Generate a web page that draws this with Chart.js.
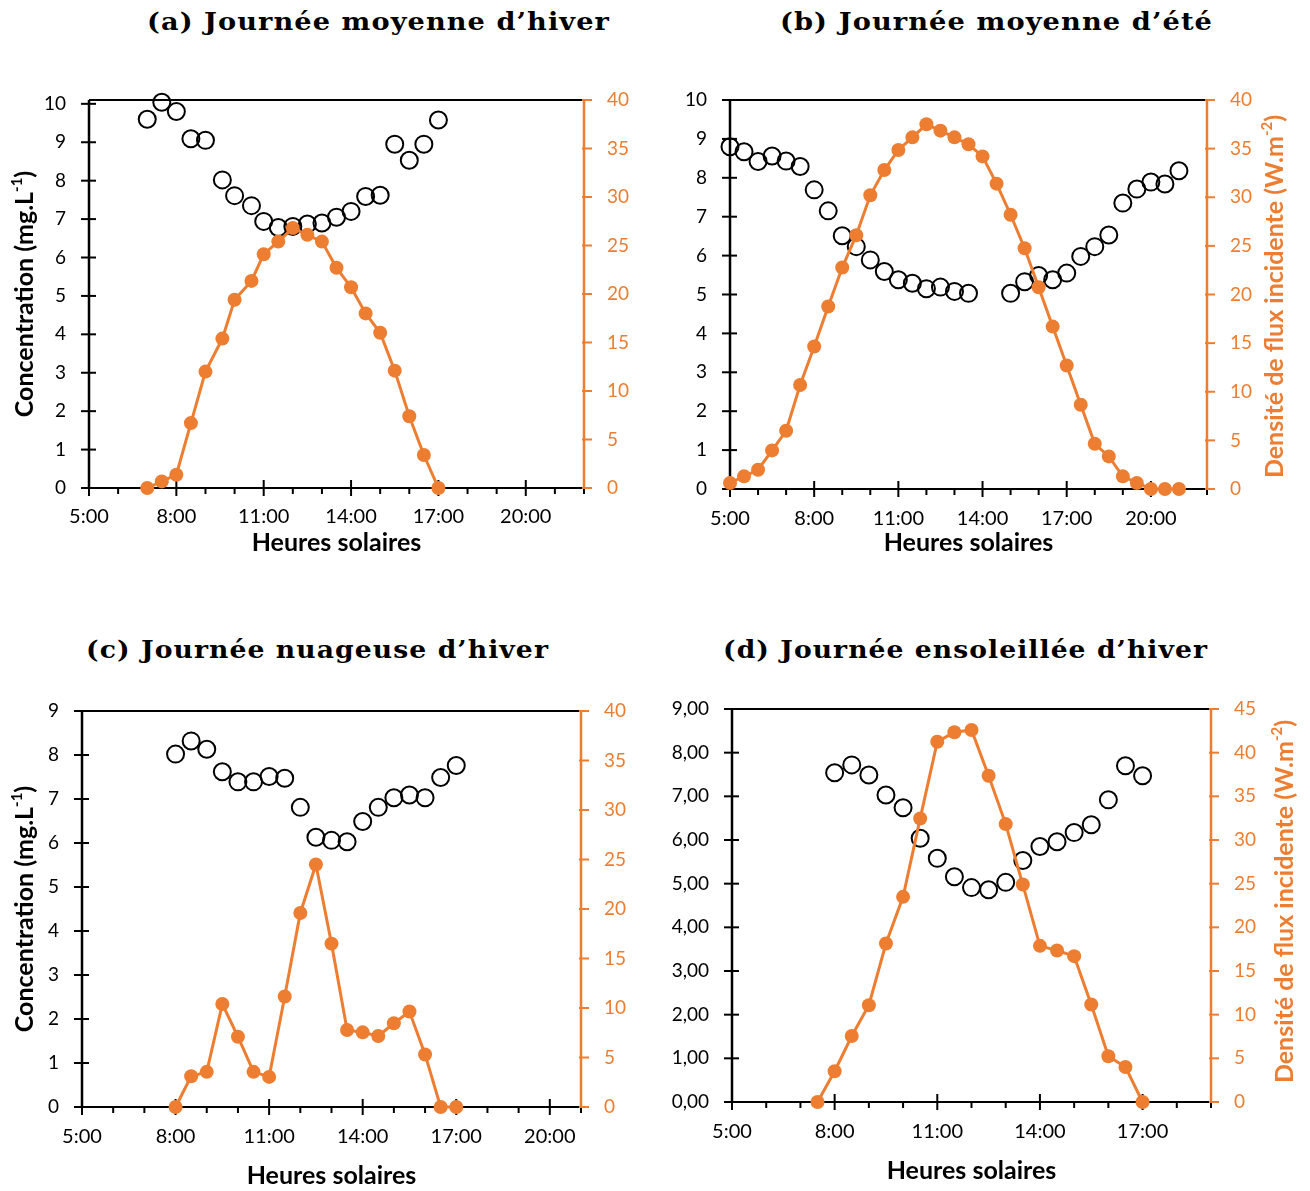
<!DOCTYPE html>
<html><head><meta charset="utf-8">
<script src="https://cdn.jsdelivr.net/npm/chart.js@4.4.1/dist/chart.umd.min.js"></script>
<style>
html,body{margin:0;padding:0;background:#fff;}
body{width:1310px;height:1191px;position:relative;overflow:hidden;}
.panel{position:absolute;}
.ttl{position:absolute;font-family:"DejaVu Serif",serif;font-weight:bold;font-size:25px;white-space:nowrap;color:#000;line-height:1.15;letter-spacing:1px;transform-origin:0 50%;}
</style></head><body>
<div class="ttl" id="tA">(a) Journée moyenne d’hiver</div>
<div class="ttl" id="tB">(b) Journée moyenne d’été</div>
<div class="ttl" id="tC">(c) Journée nuageuse d’hiver</div>
<div class="ttl" id="tD">(d) Journée ensoleillée d’hiver</div>
<div class="panel" style="left:0;top:0;width:655px;height:595px"><canvas id="cA"></canvas></div>
<div class="panel" style="left:655px;top:0;width:655px;height:595px"><canvas id="cB"></canvas></div>
<div class="panel" style="left:0;top:595px;width:655px;height:596px"><canvas id="cC"></canvas></div>
<div class="panel" style="left:655px;top:595px;width:655px;height:596px"><canvas id="cD"></canvas></div>
<script>
const ORANGE = '#ED7D31';

// ---- (a) Journée moyenne d'hiver ----
const timeA = [7, 7.5, 8, 8.5, 9, 9.58, 10, 10.58, 11, 11.5, 12, 12.5, 13, 13.5, 14, 14.5, 15, 15.5, 16, 16.5, 17];
const concA = [9.60, 10.04, 9.80, 9.09, 9.05, 8.02, 7.61, 7.35, 6.94, 6.78, 6.81, 6.87, 6.90, 7.05, 7.20, 7.59, 7.62, 8.95, 8.53, 8.95, 9.58];
const fluxA = [0, 0.68, 1.37, 6.69, 12.0, 15.4, 19.4, 21.35, 24.1, 25.4, 26.8, 26.1, 25.4, 22.7, 20.7, 18.0, 16.0, 12.1, 7.4, 3.4, 0];

// ---- (b) Journée moyenne d'été ----
const timeB = [5, 5.5, 6, 6.5, 7, 7.5, 8, 8.5, 9, 9.5, 10, 10.5, 11, 11.5, 12, 12.5, 13, 13.5, 14, 14.5, 15, 15.5, 16, 16.5, 17, 17.5, 18, 18.5, 19, 19.5, 20, 20.5, 21];
const concB = [8.80, 8.67, 8.42, 8.56, 8.43, 8.29, 7.69, 7.15, 6.51, 6.23, 5.89, 5.59, 5.38, 5.29, 5.15, 5.19, 5.08, 5.03, null, null, 5.03, 5.33, 5.49, 5.38, 5.55, 5.98, 6.23, 6.53, 7.35, 7.71, 7.89, 7.84, 8.18];
const fluxB = [0.62, 1.3, 1.98, 3.97, 5.99, 10.7, 14.65, 18.76, 22.77, 26.1, 30.2, 32.8, 34.86, 36.16, 37.5, 36.85, 36.16, 35.45, 34.2, 31.4, 28.2, 24.76, 20.75, 16.7, 12.7, 8.66, 4.65, 3.35, 1.3, 0.62, 0, 0, 0];

// ---- (c) Journée nuageuse d'hiver ----
const timeC = [8, 8.5, 9, 9.5, 10, 10.5, 11, 11.5, 12, 12.5, 13, 13.5, 14, 14.5, 15, 15.5, 16, 16.5, 17];
const concC = [8.02, 8.32, 8.13, 7.62, 7.39, 7.39, 7.51, 7.47, 6.81, 6.13, 6.06, 6.03, 6.49, 6.81, 7.03, 7.09, 7.03, 7.49, 7.76];
const fluxC = [0, 3.11, 3.55, 10.4, 7.1, 3.55, 3.04, 11.16, 19.6, 24.5, 16.5, 7.78, 7.54, 7.17, 8.46, 9.64, 5.31, 0, 0];

// ---- (d) Journée ensoleillée d'hiver ----
const timeD = [7.5, 8, 8.5, 9, 9.5, 10, 10.5, 11, 11.5, 12, 12.5, 13, 13.5, 14, 14.5, 15, 15.5, 16, 16.5, 17];
const concD = [null, 7.54, 7.72, 7.49, 7.03, 6.74, 6.04, 5.58, 5.16, 4.91, 4.86, 5.03, 5.53, 5.85, 5.96, 6.17, 6.35, 6.92, 7.70, 7.47];
const fluxD = [0, 3.52, 7.56, 11.08, 18.15, 23.49, 32.47, 41.25, 42.33, 42.6, 37.36, 31.82, 24.9, 17.88, 17.35, 16.7, 11.16, 5.24, 4.01, 0];

const xTitleText = 'Heures solaires';
const leftTitleParts = [['Concentration (mg.L', false], ['-1', true], [')', false]];
const rightTitleParts = [['Densité de flux incidente (W.m', false], ['-2', true], [')', false]];

const TITLE_SIZE = 25;
const TICK_SIZE_Y = 19;
const TICK_SIZE_X = 20;

function drawVTitle(ctx, cx, cy, parts, color) {
  const big = 'bold ' + TITLE_SIZE + 'px Lato', small = 'bold 15px Lato';
  ctx.save();
  ctx.translate(cx, cy);
  ctx.rotate(-Math.PI / 2);
  ctx.fillStyle = color;
  ctx.textBaseline = 'middle';
  ctx.textAlign = 'left';
  let total = 0;
  parts.forEach(p => { ctx.font = p[1] ? small : big; total += ctx.measureText(p[0]).width; });
  let x = -total / 2;
  parts.forEach(p => {
    ctx.font = p[1] ? small : big;
    ctx.fillText(p[0], x, p[1] ? -8 : 0);
    x += ctx.measureText(p[0]).width;
  });
  ctx.restore();
}

const axisDecor = {
  id: 'axisDecor',
  beforeDatasetsDraw(chart, args, opts) {
    const { ctx, chartArea: a, scales } = chart;
    const x = scales.x, y = scales.y, y1 = scales.y1;
    const line = (x0, y0, x1, y1_) => { ctx.beginPath(); ctx.moveTo(x0, y0); ctx.lineTo(x1, y1_); ctx.stroke(); };
    ctx.save();
    ctx.lineCap = 'butt';
    ctx.strokeStyle = '#000';
    ctx.lineWidth = 2;
    line(a.left, a.top, a.right, a.top);
    line(a.left, a.bottom, a.right, a.bottom);
    x.ticks.forEach(t => {
      const px = x.getPixelForValue(t.value);
      if ((t.value - 5) % 3 === 0) line(px, a.bottom - 8, px, a.bottom + 8);
      else line(px, a.bottom, px, a.bottom + 6);
    });
    ctx.lineWidth = 2.5;
    line(a.left, a.top, a.left, a.bottom + 1);
    ctx.lineWidth = 2;
    y.ticks.forEach(t => { const py = y.getPixelForValue(t.value); line(a.left - 8, py, a.left + 7, py); });
    ctx.strokeStyle = ORANGE;
    ctx.lineWidth = 2.5;
    line(a.right, a.top - 1, a.right, a.bottom + 1);
    ctx.lineWidth = 2;
    ctx.fillStyle = ORANGE;
    ctx.font = TICK_SIZE_Y + 'px Lato';
    ctx.textAlign = 'left';
    ctx.textBaseline = 'middle';
    y1.ticks.forEach(t => {
      const py = y1.getPixelForValue(t.value);
      line(a.right - 2, py, a.right + 8, py);
      ctx.fillText(String(t.value), a.right + opts.rightPad, py);
    });
    ctx.restore();
  },
  afterDraw(chart, args, opts) {
    const { ctx, chartArea: a } = chart;
    const cy = (a.top + a.bottom) / 2;
    if (opts.leftTitleX != null) drawVTitle(ctx, opts.leftTitleX, cy + (opts.dy || 0), leftTitleParts, '#000');
    if (opts.rightTitleX != null) drawVTitle(ctx, opts.rightTitleX, cy + (opts.dy || 0), rightTitleParts, ORANGE);
  }
};

function makePanel(canvasId, P) {
  const A = P.area;
  const tickFontY = { family: 'Lato', size: TICK_SIZE_Y };
  const tickFontX = { family: 'Lato', size: TICK_SIZE_X, lineHeight: 1.2 };
  const xTitleFont = { family: 'Lato', weight: 'bold', size: TITLE_SIZE, lineHeight: 1.2 };
  const yLbl = P.comma ? (v => v.toFixed(2).replace('.', ',')) : (v => String(v));
  return new Chart(document.getElementById(canvasId), {
    type: 'line',
    data: {
      datasets: [
        {
          label: 'Densité de flux incidente',
          data: P.time.map((t, i) => ({ x: t, y: P.flux[i] })),
          yAxisID: 'y1', borderColor: ORANGE, backgroundColor: ORANGE, borderWidth: 3,
          pointRadius: 7, pointBackgroundColor: ORANGE, pointBorderWidth: 0, tension: 0, clip: false
        },
        {
          label: 'Concentration',
          data: P.time.map((t, i) => ({ x: t, y: P.conc[i] })),
          yAxisID: 'y', showLine: false, pointRadius: 8.5, pointBorderWidth: 2,
          borderColor: '#000', pointBorderColor: '#000', pointBackgroundColor: 'rgba(0,0,0,0)', clip: false
        }
      ]
    },
    options: {
      responsive: true, maintainAspectRatio: false, animation: false,
      layout: { padding: { top: A.t, left: 0, right: 0, bottom: 0 } },
      plugins: {
        legend: { display: false }, tooltip: { enabled: false },
        axisDecor: { leftTitleX: P.leftTitleX, rightTitleX: P.rightTitleX, dy: P.titleDy, rightPad: 23 }
      },
      scales: {
        x: {
          type: 'linear', min: 5, max: P.xmax,
          grid: { display: false, drawTicks: false }, border: { display: false },
          ticks: {
            stepSize: 1, includeBounds: false, autoSkip: false, maxRotation: 0, color: '#000',
            font: tickFontX, padding: P.xTickOff - TICK_SIZE_X * 0.6,
            callback: v => (Number.isInteger(v) && (v - 5) % 3 === 0) ? v + ':00' : ''
          },
          title: { display: true, text: xTitleText, color: '#000', font: xTitleFont, padding: { top: 0, bottom: P.h - P.xTitleY - TITLE_SIZE * 0.6 } },
          afterFit: s => { s.height = P.h - A.b; }
        },
        y: {
          position: 'left', min: 0, max: P.ymax,
          grid: { display: false, drawTicks: false }, border: { display: false },
          ticks: { stepSize: 1, includeBounds: false, color: '#000', font: tickFontY, padding: 23, callback: yLbl },
          afterFit: s => { s.width = A.l; }
        },
        y1: {
          position: 'right', min: 0, max: P.y1max,
          grid: { display: false, drawTicks: false }, border: { display: false },
          ticks: { stepSize: 5, includeBounds: false, display: false },
          afterFit: s => { s.width = P.w - A.r; }
        }
      }
    },
    plugins: [axisDecor]
  });
}

makePanel('cA', { time: timeA, conc: concA, flux: fluxA, w: 655, h: 595,
  area: { l: 89, t: 100, r: 584, b: 488 }, xmax: 22, ymax: 10.1, y1max: 40,
  leftTitleX: 25, rightTitleX: null, xTitleY: 543, xTickOff: 29, titleDy: 0 });
makePanel('cB', { time: timeB, conc: concB, flux: fluxB, w: 655, h: 595,
  area: { l: 75, t: 100, r: 552, b: 489 }, xmax: 22, ymax: 10, y1max: 40,
  leftTitleX: null, rightTitleX: 620, xTitleY: 543, xTickOff: 30, titleDy: 2 });
makePanel('cC', { time: timeC, conc: concC, flux: fluxC, w: 655, h: 596,
  area: { l: 82, t: 116, r: 581, b: 512 }, xmax: 21, ymax: 9, y1max: 40,
  leftTitleX: 25, rightTitleX: null, xTitleY: 581, xTickOff: 30, titleDy: 0 });
makePanel('cD', { time: timeD, conc: concD, flux: fluxD, w: 655, h: 596,
  area: { l: 77, t: 114, r: 556, b: 507 }, xmax: 19, ymax: 9, y1max: 45, comma: true,
  leftTitleX: null, rightTitleX: 630, xTitleY: 576, xTickOff: 30, titleDy: -4 });

function fitTitle(id, x0, x1, yc) {
  const el = document.getElementById(id);
  el.style.left = x0 + 'px';
  const r = el.getBoundingClientRect();
  el.style.transform = 'scaleX(' + ((x1 - x0) / r.width) + ')';
  el.style.top = (yc - r.height / 2) + 'px';
}
fitTitle('tA', 147, 610, 22);
fitTitle('tB', 780, 1213, 22);
fitTitle('tC', 86, 549, 650);
fitTitle('tD', 723, 1208, 650);
</script>
</body></html>
